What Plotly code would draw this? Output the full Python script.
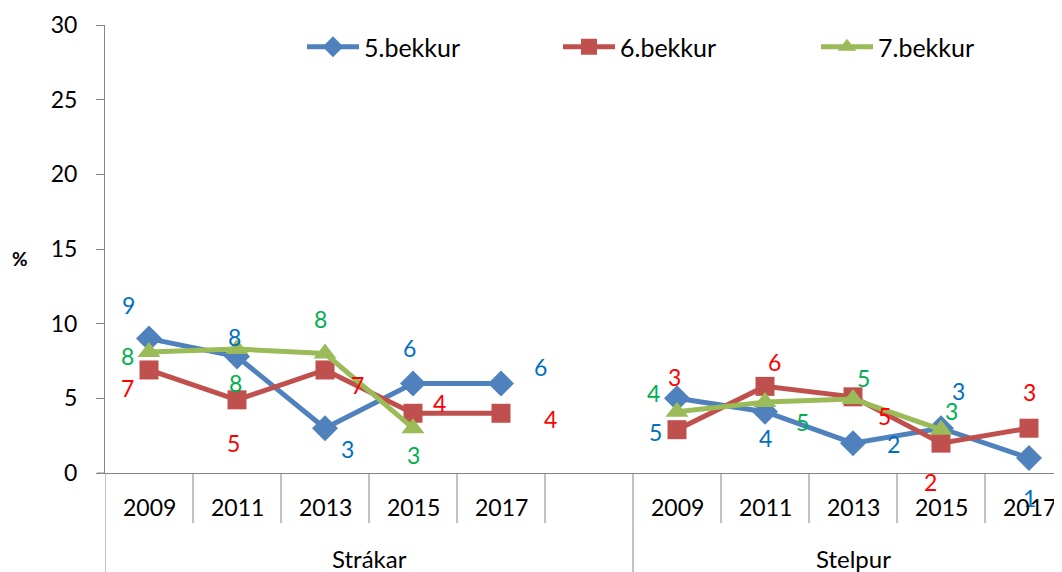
import plotly.graph_objects as go

# ---------------- data ----------------
years = ["2009", "2011", "2013", "2015", "2017"]
groups = ["Strákar", "Stelpur"]
series_names = ["5.bekkur", "6.bekkur", "7.bekkur"]

b5_strakar = [9.0, 7.8, 3.0, 6.0, 6.0]
b5_stelpur = [5.0, 4.1, 2.0, 3.0, 1.0]
b6_strakar = [6.9, 4.9, 6.9, 4.0, 4.0]
b6_stelpur = [2.9, 5.8, 5.1, 2.0, 3.0]
b7_strakar = [8.1, 8.3, 8.0, 3.0, None]
b7_stelpur = [4.1, 4.75, 4.95, 2.9, None]

# data labels as shown in the chart (rounded)
lab5_strakar = ["9", "8", "3", "6", "6"]
lab5_stelpur = ["5", "4", "2", "3", "1"]
lab6_strakar = ["7", "5", "7", "4", "4"]
lab6_stelpur = ["3", "6", "5", "2", "3"]
lab7_strakar = ["8", "8", "8", "3", None]
lab7_stelpur = ["4", "5", "5", "3", None]

# ---------------- styles ----------------
line_colors = ["#4F81BD", "#C0504D", "#9BBB59"]
label_colors = ["#0070C0", "#FF0000", "#00B050"]
symbols = ["diamond", "square", "triangle-up"]
msizes = [20, 19, 20]
FONT = "Lato, Calibri, Carlito, sans-serif"
AXC = "#868686"
FS = 23

# the page body has an 8px margin: figure is drawn 8px in from the corner
OFF = 8
PW, PH = 957.0, 448.0

# label offsets (pixels, dx right, dy down) per series, per group, per year
offsets = {
    0: [[(-21, -34), (-3, -20), (22, 21), (-4, -35), (39, -16)],
        [(-22, 34), (0, 26), (40, 1), (17, -37), (0, 40)]],
    1: [[(-22, 18), (-4, 43), (32, 15), (26, -10), (49, 6)],
        [(-3, -53), (9, -24), (31, 19), (-11, 39), (0, -36)]],
    2: [[(-22, 4), (-2, 34), (-5, -35), (0, 27), None],
        [(-24, -19), (37, 20), (10, -21), (10, -19), None]],
}

values = [(b5_strakar, b5_stelpur), (b6_strakar, b6_stelpur), (b7_strakar, b7_stelpur)]
labels = [(lab5_strakar, lab5_stelpur), (lab6_strakar, lab6_stelpur), (lab7_strakar, lab7_stelpur)]

n = len(years)
x_strakar = list(range(n))                 # 0..4
x_stelpur = [i + n + 1 for i in range(n)]  # 6..10 (one empty slot between groups)
group_x = [x_strakar, x_stelpur]

legend_ids = ["legend", "legend2", "legend3"]
legend_px = [302, 558, 816]  # page x of each legend entry

fig = go.Figure()
annotations = []

for s in range(3):
    xs = x_strakar + [n] + x_stelpur
    ys = list(values[s][0]) + [None] + list(values[s][1])
    fig.add_trace(go.Scatter(
        x=xs, y=ys, name=series_names[s], mode="lines+markers",
        connectgaps=False, legend=legend_ids[s],
        line=dict(color=line_colors[s], width=5),
        marker=dict(symbol=symbols[s], size=msizes[s], color=line_colors[s], line=dict(width=0)),
        cliponaxis=False,
    ))
    for g in range(2):
        for i in range(n):
            v = values[s][g][i]
            lab = labels[s][g][i]
            if v is None or lab is None:
                continue
            dx, dy = offsets[s][g][i]
            annotations.append(dict(
                x=group_x[g][i], y=v, xref="x", yref="y", text=lab, showarrow=False,
                xshift=dx, yshift=-dy, font=dict(family=FONT, size=FS, color=label_colors[s]),
                xanchor="center", yanchor="middle",
            ))

# category labels
for g in range(2):
    for i in range(n):
        annotations.append(dict(
            x=group_x[g][i], y=0, xref="x", yref="paper", text=years[i], showarrow=False,
            yshift=-34, font=dict(family=FONT, size=FS, color="black"),
            xanchor="center", yanchor="middle",
        ))
group_centers = [(-0.5 + n + 0.5) / 2, (n + 0.5 + 2 * n + 0.5) / 2]
for g in range(2):
    annotations.append(dict(
        x=group_centers[g], y=0, xref="x", yref="paper", text=groups[g], showarrow=False,
        yshift=-85, font=dict(family=FONT, size=24, color="black"),
        xanchor="center", yanchor="middle",
    ))

# y axis title
annotations.append(dict(
    x=(20 - 105) / PW, y=(473 - 258) / PH, xref="paper", yref="paper", text="<b>%</b>",
    showarrow=False, font=dict(family=FONT, size=19, color="black"),
    xanchor="center", yanchor="middle",
))

# category divider lines
shapes = []
short_bounds = [i + 0.5 for i in range(n)] + [n + 1 + i + 0.5 for i in range(n - 1)]
for b in short_bounds:
    if abs(b - (n + 0.5)) < 1e-9:
        continue
    shapes.append(dict(type="line", xref="x", yref="paper", x0=b, x1=b, y0=0, y1=-50 / PH,
                       line=dict(color=AXC, width=1)))
for b in [-0.5, n + 0.5]:
    shapes.append(dict(type="line", xref="x", yref="paper", x0=b, x1=b, y0=0, y1=-105 / PH,
                       line=dict(color=AXC, width=1)))
shapes.append(dict(type="line", xref="paper", yref="paper", x0=-8 / PW, x1=0, y0=0, y1=0,
                   line=dict(color=AXC, width=1)))

legend_common = dict(orientation="h", xanchor="left", yanchor="middle",
                     y=(473 - 47) / PH,
                     font=dict(family=FONT, size=25, color="black"), itemwidth=52,
                     bgcolor="rgba(0,0,0,0)", itemsizing="trace")

layout_legends = {}
for s in range(3):
    layout_legends[legend_ids[s]] = dict(legend_common, x=(legend_px[s] - 105) / PW)

fig.update_layout(
    width=1062 - OFF, height=572 - OFF,
    margin=dict(l=105 - OFF, r=0, t=25 - OFF, b=99, pad=0),
    paper_bgcolor="white", plot_bgcolor="white",
    font=dict(family=FONT, size=FS, color="black"),
    xaxis=dict(range=[-0.5, 10.375], showgrid=False, zeroline=False, showline=True,
               linecolor=AXC, linewidth=1, showticklabels=False, ticks="", fixedrange=True),
    yaxis=dict(range=[0, 30], dtick=5, tick0=0, showgrid=False, zeroline=False, showline=True,
               linecolor=AXC, linewidth=1, ticks="outside", ticklen=8, tickcolor=AXC,
               tickfont=dict(family=FONT, size=FS, color="black"), ticklabelstandoff=14),
    annotations=annotations,
    shapes=shapes,
    showlegend=True,
    **layout_legends,
)

fig.write_html("out.html")
